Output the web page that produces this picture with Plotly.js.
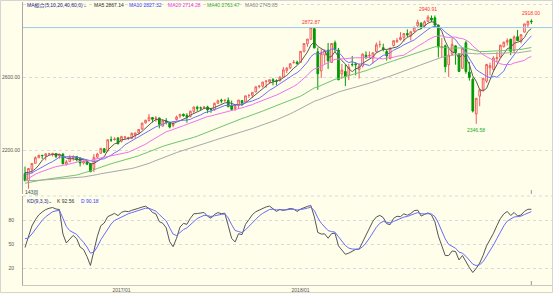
<!DOCTYPE html>
<html><head><meta charset="utf-8">
<script src="https://cdn.plot.ly/plotly-3.0.1.min.js"></script>
<style>html,body{margin:0;padding:0;background:#fefeea;}#chart{width:553px;height:294px;}</style>
</head><body><div id="chart"></div>
<script>
const weeks = [
'2016-06-20','2016-06-27','2016-07-04','2016-07-11','2016-07-18','2016-07-25','2016-08-01','2016-08-08','2016-08-15','2016-08-22','2016-08-29','2016-09-05','2016-09-12','2016-09-19','2016-09-26','2016-10-03','2016-10-10','2016-10-17','2016-10-24','2016-10-31','2016-11-07','2016-11-14','2016-11-21','2016-11-28','2016-12-05','2016-12-12','2016-12-19','2016-12-26',
'2017-01-02','2017-01-09','2017-01-16','2017-01-23','2017-01-30','2017-02-06','2017-02-13','2017-02-20','2017-02-27','2017-03-06','2017-03-13','2017-03-20','2017-03-27','2017-04-03','2017-04-10','2017-04-17','2017-04-24','2017-05-01','2017-05-08','2017-05-15','2017-05-22','2017-05-29','2017-06-05','2017-06-12','2017-06-19','2017-06-26','2017-07-03','2017-07-10','2017-07-17','2017-07-24','2017-07-31','2017-08-07','2017-08-14','2017-08-21','2017-08-28','2017-09-04','2017-09-11','2017-09-18','2017-09-25','2017-10-02','2017-10-09','2017-10-16','2017-10-23','2017-10-30','2017-11-06','2017-11-13','2017-11-20','2017-11-27','2017-12-04','2017-12-11','2017-12-18','2017-12-25',
'2018-01-01','2018-01-08','2018-01-15','2018-01-22','2018-01-29','2018-02-05','2018-02-12','2018-02-19','2018-02-26','2018-03-05','2018-03-12','2018-03-19','2018-03-26','2018-04-02','2018-04-09','2018-04-16','2018-04-23','2018-04-30','2018-05-07','2018-05-14','2018-05-21','2018-05-28','2018-06-04','2018-06-11','2018-06-18','2018-06-25','2018-07-02','2018-07-09','2018-07-16','2018-07-23','2018-07-30','2018-08-06','2018-08-13','2018-08-20','2018-08-27','2018-09-03','2018-09-10','2018-09-17','2018-09-24','2018-10-01','2018-10-08','2018-10-15','2018-10-22','2018-10-29','2018-11-05','2018-11-12','2018-11-19','2018-11-26','2018-12-03','2018-12-10','2018-12-17','2018-12-24','2018-12-31',
'2019-01-07','2019-01-14','2019-01-21','2019-01-28','2019-02-04','2019-02-11','2019-02-18','2019-02-25','2019-03-04','2019-03-11','2019-03-18','2019-03-25','2019-04-01','2019-04-08','2019-04-15'];

const open = [
2075,2036,2099,2131,2162,2175,2172,2183,2183,2184,2171,2181,2125,2140,2159,2168,2160,2133,2142,2129,2101,2165,2186,2211,2201,2260,2260,2270,
2251,2273,2270,2268,2286,2298,2319,2352,2365,2381,2372,2379,2334,2363,2354,2338,2370,2389,2399,2393,2387,2415,2437,2434,2437,2439,2431,2424,2459,2476,2475,2475,2445,2430,2447,2474,2467,2502,2503,2521,2551,2553,2578,2575,2588,2582,2583,2602,2639,2653,2681,2684,
2683,2743,2784,2809,2867,2741,2636,2723,2750,2682,2790,2750,2619,2633,2611,2671,2675,2643,2663,2722,2718,2707,2741,2780,2763,2742,2704,2775,2796,2807,2819,2840,2827,2853,2884,2897,2882,2906,2925,2926,2887,2763,2773,2670,2727,2773,2730,2650,2790,2630,2590,2401,2498,
2535,2580,2653,2644,2703,2712,2769,2793,2809,2747,2823,2796,2848,2888,2908];
const high = [
2113,2102,2131,2169,2178,2177,2185,2188,2189,2187,2184,2187,2149,2176,2175,2169,2163,2148,2150,2133,2182,2189,2214,2214,2260,2278,2273,2273,
2282,2279,2276,2300,2299,2319,2352,2368,2401,2384,2390,2381,2371,2378,2356,2362,2392,2400,2403,2405,2419,2440,2446,2441,2443,2446,2433,2463,2479,2484,2478,2491,2474,2450,2477,2475,2500,2509,2520,2552,2557,2576,2582,2589,2597,2590,2605,2657,2655,2679,2695,2692,
2744,2787,2810,2872.87,2870,2763,2755,2754,2789,2787,2802,2761,2674,2672,2674,2718,2683,2677,2732,2743,2742,2736,2791,2801,2785,2753,2764,2804,2816,2848,2841,2863,2855,2877,2916,2901,2912,2940.91,2939,2939,2888,2816,2780,2756,2815,2775,2730,2760,2800,2685,2601,2489,2539,
2597,2675,2681,2716,2738,2780,2796,2814,2812,2830,2860,2836,2893,2910,2918.00];
const low = [
2032,1992,2074,2131,2159,2155,2147,2175,2168,2160,2157,2127,2119,2139,2145,2142,2114,2124,2122,2084,2084,2156,2183,2187,2192,2248,2256,2233,
2245,2258,2258,2263,2267,2289,2313,2348,2359,2354,2358,2322,2333,2344,2322,2328,2365,2377,2386,2353,2382,2403,2415,2419,2428,2405,2407,2419,2458,2459,2466,2437,2417,2418,2428,2446,2466,2488,2488,2520,2541,2545,2544,2566,2557,2557,2577,2600,2624,2645,2676,2673,
2683,2737,2768,2808,2759,2533,2597,2675,2647,2681,2741,2585,2593,2553,2586,2660,2612,2594,2655,2701,2707,2676,2735,2764,2743,2692,2698,2769,2789,2802,2796,2821,2802,2845,2876,2864,2869,2903,2903,2874,2710,2710,2628,2603,2722,2670,2632,2649,2621,2583,2409,2346.58,2443,
2524,2570,2612,2631,2681,2705,2764,2775,2722,2732,2800,2786,2845,2874,2892];
const close = [
2037,2103,2130,2162,2175,2173,2183,2184,2184,2169,2180,2128,2139,2165,2168,2153,2133,2141,2126,2085,2164,2182,2213,2192,2260,2258,2264,2239,
2277,2275,2271,2295,2297,2316,2351,2367,2383,2372,2378,2344,2363,2355,2329,2349,2384,2399,2391,2382,2416,2439,2432,2433,2438,2423,2425,2459,2473,2472,2476,2441,2426,2443,2477,2461,2500,2502,2519,2549,2553,2575,2581,2588,2582,2579,2603,2642,2652,2675,2683,2674,
2743,2786,2810,2872.87,2762,2620,2732,2747,2691,2786,2752,2588,2641,2604,2656,2670,2670,2663,2728,2713,2721,2735,2779,2780,2755,2718,2760,2801,2802,2819,2840,2833,2850,2875,2902,2872,2905,2930,2914,2886,2767,2768,2659,2723,2781,2736,2633,2760,2633,2600,2417,2486,2532,
2596,2671,2665,2707,2708,2776,2793,2803,2743,2822,2801,2834,2893,2907,2905];

// weekly closes before the first visible week (for the moving averages)
const priorCloses = [2116,2123,2126,2107,2092,2094,2110,2102,2077,2077,2127,2080,2104,2078,2092,1971,1989,1921,1961,1958,1931,1951,2015,2033,2075,2079,2099,2023,2089,2090,2092,2012,2005,2061,2044,
1922,1880,1907,1940,1880,1865,1918,1948,1999,2022,2050,2035,2073,2048,2081,2092,2065,2057,2047,2053,2099,2099,2096,2071];
// highs / lows of the last 12 weeks before the first visible week (for KD)
const priorHighs = [2075,2075,2084,2111,2099,2084,2075,2065,2100,2103,2121,2095];
const priorLows  = [2022,2039,2039,2078,2060,2040,2043,2025,2051,2086,2085,2050];

const maPeriods = [5,10,20,40,60];
const maNames = ['MA5','MA10','MA20','MA40','MA60'];
const maLastValues = ['2867.14','2827.32','2714.28','2763.47','2745.85'];
const kdNames = ['K','D'];
const kdLastValues = ['92.56','90.18'];
const markHighs = [2872.87, 2940.91, 2918.00];
const markLows = [2346.58];
const refLevel = 2872.87;
const tickDates = ['2017-01-02','2018-01-01'];
const tickLabels = ['2017/01','2018/01'];
const priceTicks = [2200,2600,3000];
const priceTickLabels = ['2200.00','2600.00',''];
const kdTicks = [20,50,80];
const kdTickLabels = ['20','50','80'];
const periodLabel = '143周';
const maTitle = 'MA組合(5,10,20,40,60,0)⌄';
const kdTitle = 'KD(9,3,3)⌄';

// ---- derived indicators ----
const allCloses = priorCloses.concat(close);
const P = priorCloses.length;
function movingAverage(n){
  const out=[];
  for(let i=0;i<close.length;i++){
    let s=0; for(let j=P+i-n+1;j<=P+i;j++) s+=allCloses[j];
    out.push(s/n);
  }
  return out;
}
function computeKD(n){
  const H=priorHighs.concat(high), L=priorLows.concat(low), C=priorCloses.slice(-priorHighs.length).concat(close);
  let K=50,D=50; const Ks=[],Ds=[];
  for(let i=0;i<C.length;i++){
    let hh=-Infinity,ll=Infinity;
    for(let j=Math.max(0,i-n+1);j<=i;j++){hh=Math.max(hh,H[j]);ll=Math.min(ll,L[j]);}
    const rsv=hh===ll?50:(C[i]-ll)/(hh-ll)*100;
    K=(2*K+rsv)/3; D=(2*D+K)/3; Ks.push(K); Ds.push(D);
  }
  const off=priorHighs.length;
  return [Ks.slice(off),Ds.slice(off)];
}

const BG='#fefeea';
const maColors=['#5a5a5a','#6f6fff','#f070f0','#70c470','#a8a8a8'];
const maTextColors=['#333333','#3a3aff','#ee33ee','#33aa33','#888888'];
const kdColors=['#555555','#6a6aff'];
const FONT='Liberation Sans, Arial, sans-serif';

const traces=[];
traces.push({type:'candlestick',x:weeks,open:open,high:high,low:low,close:close,xaxis:'x',yaxis:'y',
  increasing:{line:{color:'#f25c5c',width:1},fillcolor:BG},
  decreasing:{line:{color:'#009a00',width:1},fillcolor:'#009a00'},
  whiskerwidth:0,hoverinfo:'skip'});
maPeriods.forEach((n,k)=>{
  traces.push({type:'scatter',mode:'lines',x:weeks,y:movingAverage(n),xaxis:'x',yaxis:'y',
    line:{color:maColors[k],width:1},hoverinfo:'skip'});
});
const kd=computeKD(9);
kd.forEach((arr,k)=>{
  traces.push({type:'scatter',mode:'lines',x:weeks,y:arr,xaxis:'x',yaxis:'y2',
    line:{color:kdColors[k],width:1},hoverinfo:'skip'});
});

const H=294, PH=285; // plot area height (margin bottom 9)
const py=p=>1-p/PH;           // pixel row -> paper y
const px=p=>(p-23)/530;       // pixel column -> paper x

const annotations=[];
annotations.push({xref:'paper',yref:'paper',x:px(25),y:py(5),xanchor:'left',yanchor:'middle',text:maTitle,showarrow:false,font:{family:FONT+', Noto Sans CJK TC',size:5,color:'#1a1a8a'}});
const maX=[92,127,166,205,243];
maNames.forEach((nm,k)=>{
  annotations.push({xref:'paper',yref:'paper',x:px(maX[k]),y:py(5),xanchor:'left',yanchor:'middle',text:nm+' '+maLastValues[k],showarrow:false,font:{family:FONT,size:5,color:maTextColors[k]}});
});
annotations.push({xref:'paper',yref:'paper',x:px(25),y:py(200.5),xanchor:'left',yanchor:'middle',text:kdTitle,showarrow:false,font:{family:FONT,size:5,color:'#1a1a8a'}});
const kdX=[55,79];
kdNames.forEach((nm,k)=>{
  annotations.push({xref:'paper',yref:'paper',x:px(kdX[k]),y:py(200.5),xanchor:'left',yanchor:'middle',text:nm+' '+kdLastValues[k],showarrow:false,font:{family:FONT,size:5,color:k===0?'#333333':'#3a3aff'}});
});
annotations.push({xref:'paper',yref:'paper',x:px(23),y:py(192),xanchor:'left',yanchor:'middle',text:periodLabel,showarrow:false,font:{family:FONT+', Noto Sans CJK SC',size:5,color:'#1f4f4f'}});
markHighs.forEach(v=>{
  const i=high.lastIndexOf(v);
  annotations.push({xref:'x',yref:'y',x:weeks[i],y:v,xanchor:'center',yanchor:'bottom',yshift:1,text:v.toFixed(2),showarrow:false,font:{family:FONT,size:5,color:'#ff3030'}});
});
markLows.forEach(v=>{
  const i=low.indexOf(v);
  annotations.push({xref:'x',yref:'y',x:weeks[i],y:v,xanchor:'center',yanchor:'top',yshift:-1,text:v.toFixed(2),showarrow:false,font:{family:FONT,size:5,color:'#22aa22'}});
});

const lastWeek=weeks[weeks.length-1];
const shapes=[
  {type:'line',xref:'paper',yref:'y',x0:0,x1:1,y0:refLevel,y1:refLevel,line:{color:'#9cc8ec',width:1}},
  {type:'line',xref:'paper',yref:'paper',x0:0,x1:1,y0:py(196),y1:py(196),line:{color:'#dadada',width:1,dash:'dot'}},
  {type:'line',xref:'x',yref:'paper',x0:lastWeek,x1:lastWeek,y0:py(194),y1:py(190),line:{color:'#999',width:1}},
  {type:'line',xref:'x',yref:'paper',x0:lastWeek,x1:lastWeek,y0:py(285),y1:py(281),line:{color:'#999',width:1}},
  {type:'rect',xref:'paper',yref:'paper',x0:px(0.5),x1:px(552.5),y0:py(0.5),y1:py(292.5),line:{color:'#d4d4d4',width:1},fillcolor:'rgba(0,0,0,0)'}
];

const layout={
  width:553,height:H,margin:{l:23,r:0,t:0,b:9,pad:0},
  paper_bgcolor:BG,plot_bgcolor:BG,showlegend:false,dragmode:false,
  font:{family:FONT,size:5,color:'#555'},
  xaxis:{type:'date',anchor:'y2',range:['2016-06-15 22:00','2019-05-29'],tickvals:tickDates,ticktext:tickLabels,
    tickfont:{family:FONT,size:5,color:'#555'},showgrid:false,zeroline:false,showline:true,linecolor:'#c8c8c8',linewidth:1,
    ticks:'',rangeslider:{visible:false},fixedrange:true},
  yaxis:{domain:[py(194),py(2)],range:[1963.4,3012.6],tickvals:priceTicks,ticktext:priceTickLabels,
    tickfont:{family:FONT,size:5,color:'#555'},showgrid:true,gridcolor:'#dadada',griddash:'dot',gridwidth:1,
    zeroline:false,showline:true,linecolor:'#a8a8a8',linewidth:1,ticks:'',ticklabelstandoff:1,fixedrange:true},
  yaxis2:{domain:[0,py(196)],range:[-1.25,110],tickvals:kdTicks,ticktext:kdTickLabels,
    tickfont:{family:FONT,size:5,color:'#555'},showgrid:true,gridcolor:'#dadada',griddash:'dot',gridwidth:1,
    zeroline:false,showline:true,linecolor:'#a8a8a8',linewidth:1,ticks:'',ticklabelstandoff:7,fixedrange:true},
  annotations:annotations,shapes:shapes
};
Plotly.newPlot('chart',traces,layout,{staticPlot:true,displayModeBar:false});
</script></body></html>
